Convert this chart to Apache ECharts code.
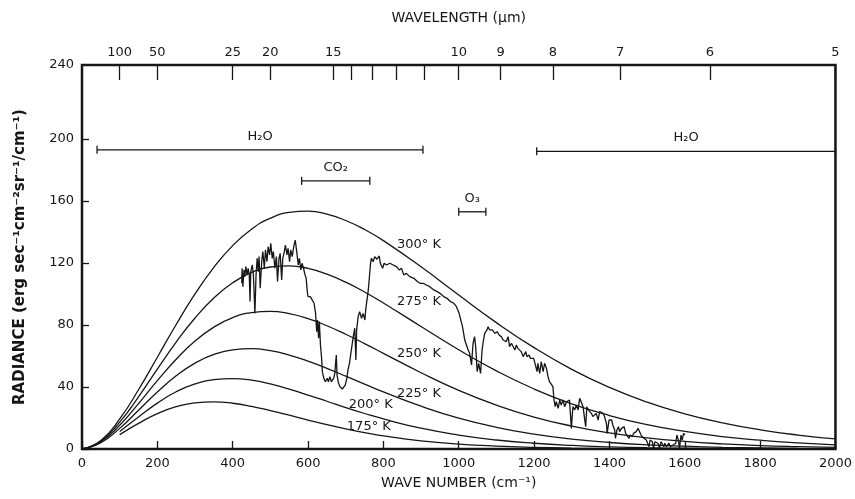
<!DOCTYPE html>
<html><head><meta charset="utf-8">
<script src="https://cdn.jsdelivr.net/npm/echarts@6/dist/echarts.min.js"></script>
<style>html,body{margin:0;padding:0;background:#fff}#c{width:855px;height:499px}</style>
</head><body><div id="c"></div>
<script>
// ---------- DATA ----------
const waveNumbers = [0,50,100,150,200,250,300,350,400,450,500,550,600,650,700,750,800,900,1000,1100,1200,1300,1400,1500,1600,1700,1800,1900,2000];
const radiance300K = [0,5.5,19.4,38.2,59.2,80.3,100.0,117.2,131.2,141.8,148.9,152.6,153.4,151.5,147.4,141.6,134.4,117.5,99.3,81.5,65.4,51.4,39.7,30.2,22.7,16.9,12.4,9.0,6.5];
const radiance275K = [0,5.0,17.3,33.7,51.6,69.0,84.5,97.4,107.2,113.9,117.4,118.1,116.5,112.8,107.6,101.3,94.2,79.0,64.0,50.4,38.7,29.1,21.6,15.7,11.3,8.0,5.7,3.9,2.7];
const radiance250K = [0,4.5,15.3,29.3,44.1,57.9,69.6,78.6,84.8,88.0,88.8,87.3,84.1,79.5,74.0,68.0,61.7,49.2,37.8,28.3,20.6,14.8,10.4,7.2,4.9,3.3,2.2,1.5,1.0];
const radiance225K = [0,4.0,13.3,25.0,36.8,47.2,55.4,61.0,64.0,64.7,63.4,60.6,56.7,52.0,47.0,41.9,36.8,27.6,19.9,14.0,9.6,6.4,4.2,2.7,1.8,1.1,0.7,0.4,0.3];
const radiance200K = [null,null,11.3,20.7,29.6,36.9,42.0,44.8,45.4,44.4,42.0,38.6,34.8,30.8,26.7,22.9,19.4,13.4,9.0,5.8,3.7,2.3,1.4,0.8,0.5,0.3,0.2,0.1,0.05];
const radiance175K = [null,null,9.3,16.5,22.8,27.3,29.8,30.4,29.5,27.5,24.8,21.8,18.7,15.7,13.0,10.6,8.5,5.3,3.2,1.9,1.1,0.6,0.3,0.2,0.1,0.05,0.03,0.01,0.01];
const curveTemps = [300,275,250,225,200,175];
const curveValues = [radiance300K,radiance275K,radiance250K,radiance225K,radiance200K,radiance175K];

const obsWaveNumber = [424,425,427,430,432,435,438,441,444,446,448,452,455,459,462,465,468,470,473,477,480,484,487,491,494,498,501,505,508,512,516,519,523,526,530,533,537,540,544,547,551,554,558,562,566,570,574,577,581,584,588,592,595,598,600,606,611,616,620,623,625,628,630,633,636,638,642,646,651,654,658,662,668,671,675,677,681,685,691,695,699,703,706,710,
720,724,727,729,733,737,742,746,751,753,760,766,768,773,777,783,789,792,798,802,808,817,826,835,842,848,854,861,870,881,890,897,905,914,923,934,943,950,960,969,978,987,994,1001,1004,1010,1016,1025,
1029,1034,1038,1042,1045,1049,1053,1058,1062,1065,1069,1075,1078,1082,1089,1096,1102,1107,1113,1118,1122,1126,1131,1135,1140,1144,1149,1153,1157,1162,1166,1171,1173,1178,1181,1187,1190,1195,1199,1203,1208,1210,1215,1219,1224,1228,1233,1237,1241,1246,1250,1253,1256,1259,1264,1268,1272,1277,1281,1286,1291,1294,1299,1303,1308,1312,1317,1321,1325,1330,1334,1337,1340,1344,1348,1352,1356,1361,1365,1370,1374,1378,1383,1387,1392,1394,1399,1402,1406,1409,1414,1416,1420,1424,1427,1432,1436,1439,1443,1447,1452,1455,1461,1464,1468,1471,1476,1480,1484,1487,1491,1494,1498,1502,1505,1508,1514,1517,1521,1524,1529,1533,1537,1540,1544,1547,1551,1554,1558,1562,1564,1569,1572,1576,1579,1583,1586,1590,1593,1597,1600];
const obsRadiance = [106.9,116.6,104.7,115.5,111.2,117.6,112.3,116.6,112.3,95.1,114.4,118.7,112.3,87.5,112.3,123.0,114.4,124.1,103.7,120.9,127.3,116.6,128.4,120.9,130.5,125.2,132.7,123.0,127.3,116.6,124.1,108.0,123.0,126.2,109.0,123.0,127.3,131.6,125.2,129.5,120.9,128.4,124.1,130.5,134.8,127.3,118.7,123.0,115.5,119.8,116.6,112.3,110.1,101.5,98.3,98.3,97.2,94.0,87.5,75.7,83.2,71.4,82.2,67.1,58.5,49.9,45.6,43.4,45.6,43.4,46.7,43.4,45.6,48.8,60.6,47.7,42.4,40.2,38.7,38.1,41.3,45.6,51.0,55.3,
72.5,77.9,57.4,76.8,85.4,88.6,84.3,87.5,83.2,89.7,102.6,119.8,123.0,120.9,124.1,122.4,124.5,119.8,116.6,119.8,118.7,119.8,118.7,117.6,115.5,116.6,112.3,113.3,111.2,110.1,108.0,106.9,106.9,105.8,104.7,102.6,101.5,100.4,98.3,97.2,95.1,94.0,91.8,87.5,86.5,78.9,70.3,63.9,
61.7,54.2,68.2,72.5,66.0,49.9,55.3,48.8,63.9,69.2,74.6,76.8,78.9,76.8,76.8,74.6,75.7,73.5,72.5,70.3,71.4,69.2,72.5,66.0,68.2,69.2,63.9,67.1,64.9,63.9,62.8,59.6,58.5,62.8,59.6,60.6,58.5,59.6,58.5,57.4,49.9,55.3,48.8,56.3,49.9,55.3,52.0,46.7,43.4,44.5,40.2,31.6,27.3,30.5,26.2,31.6,28.4,31.6,27.3,30.5,29.5,31.6,13.3,27.3,25.2,28.4,25.2,32.7,30.5,27.3,19.8,14.4,27.3,25.2,26.2,23.0,20.9,21.9,23.0,18.7,24.1,25.2,23.0,20.9,16.6,10.1,18.7,19.8,18.7,15.5,12.3,6.9,12.3,14.4,11.2,13.3,12.3,14.4,10.1,9.0,6.9,9.0,8.0,10.1,9.0,11.2,13.3,14.4,9.0,10.1,6.9,8.0,5.8,6.9,1.5,5.8,4.7,0.4,4.7,5.8,3.7,0.4,4.7,4.7,1.5,3.7,1.5,2.6,3.7,1.5,0.4,2.6,1.5,3.7,9.0,5.8,0.4,9.0,5.8,10.1,9.0];

const wavelengthLabels = [100,50,25,20,15,10,9,8,7,6,5];
const wavelengthMinorTicks = [14,13,12,11];
const yTickLabels = [0,40,80,120,160,200,240];
const bandNames = ['H\u2082O','CO\u2082','O\u2083','H\u2082O'];
const bandStart = [40,583,1000,1207];
const bandEnd = [905,764,1072,2000];

// ---------- LAYOUT ----------
const FONT = 'DejaVu Sans';
const INK = '#161616';
const Y_TOP = 247.7;               // frame top in radiance units
const bandLevel = [193, 173, 153, 192];
const tempLabelAt = [[836,131.6],[836,94.8],[836,61.3],[836,35.5],[708,28.4],[703,14.2]];

const planckSeries = curveTemps.map((t, k) => ({
  type: 'line',
  name: t + '\u00B0 K',
  data: waveNumbers.map((x, i) => [x, curveValues[k][i]]).filter(p => p[1] !== null),
  symbol: 'none',
  smooth: true,
  lineStyle: { color: INK, width: 1.3 },
  silent: true,
  z: 3,
  markPoint: {
    symbol: 'circle', symbolSize: 0, silent: true,
    label: { show: true, position: 'right', distance: 0, formatter: t + '\u00B0 K',
             color: INK, fontFamily: FONT, fontSize: 13 },
    data: [{ coord: tempLabelAt[k] }]
  }
}));

const yLabelVals = yTickLabels.map(v => v === 240 ? Y_TOP : v);

const option = {
  animation: false,
  backgroundColor: '#fff',
  grid: { left: 82, right: 19, top: 65, bottom: 50, show: true, borderColor: INK, borderWidth: 2.5 },
  xAxis: [
    {
      type: 'value', min: 0, max: 2000, interval: 200, position: 'bottom',
      axisLine: { show: false }, splitLine: { show: false },
      axisTick: { show: true, inside: true, length: 8, lineStyle: { color: INK, width: 1.3 } },
      axisLabel: { color: INK, fontFamily: FONT, fontSize: 13, margin: 8, formatter: v => String(v) },
      name: 'WAVE NUMBER (cm\u207B\u00B9)', nameLocation: 'middle', nameGap: 27,
      nameTextStyle: { color: INK, fontFamily: FONT, fontSize: 14 }
    },
    {
      type: 'value', min: 0, max: 2000, position: 'top',
      axisLine: { show: false }, splitLine: { show: false },
      axisTick: { show: true, inside: true, length: 15,
        customValues: wavelengthLabels.concat(wavelengthMinorTicks).map(l => 10000 / l),
        lineStyle: { color: INK, width: 1.3 } },
      axisLabel: { color: INK, fontFamily: FONT, fontSize: 13, margin: 6,
        customValues: wavelengthLabels.map(l => 10000 / l),
        formatter: v => String(Math.round(10000 / v)) },
      name: 'WAVELENGTH (\u03BCm)', nameLocation: 'middle', nameGap: 40,
      nameTextStyle: { color: INK, fontFamily: FONT, fontSize: 14 }
    }
  ],
  yAxis: [{
    type: 'value', min: 0, max: Y_TOP,
    axisLine: { show: false }, splitLine: { show: false },
    axisTick: { show: true, inside: true, length: 7,
      customValues: yTickLabels.filter(v => v !== 240), lineStyle: { color: INK, width: 1.3 } },
    axisLabel: { color: INK, fontFamily: FONT, fontSize: 13, margin: 8,
      customValues: yLabelVals,
      formatter: v => (v > 240 ? '240' : String(v)) },
    name: 'RADIANCE (erg sec\u207B\u00B9cm\u207B\u00B2sr\u207B\u00B9/cm\u207B\u00B9)',
    nameLocation: 'middle', nameGap: 54, nameRotate: 90,
    nameTextStyle: { color: INK, fontFamily: FONT, fontSize: 15, fontWeight: 'bold' }
  }],
  series: planckSeries.concat([
    {
      type: 'line', name: 'observed',
      data: obsWaveNumber.map((x, i) => [x, obsRadiance[i]]),
      symbol: 'none', silent: true, z: 4,
      lineStyle: { color: INK, width: 1.3 }
    },
    {
      type: 'custom', name: 'bands', silent: true, clip: false, z: 5,
      data: bandNames.map((n, i) => [bandStart[i], bandLevel[i], bandEnd[i], i]),
      encode: { x: [0, 2], y: 1 },
      renderItem: (params, api) => {
        const a = api.coord([api.value(0), api.value(1)]);
        const b = api.coord([api.value(2), api.value(1)]);
        const idx = api.value(3);
        const cap = 4;
        const st = { stroke: INK, lineWidth: 1.3 };
        return { type: 'group', children: [
          { type: 'line', shape: { x1: a[0], y1: a[1], x2: b[0], y2: b[1] }, style: st },
          { type: 'line', shape: { x1: a[0], y1: a[1] - cap, x2: a[0], y2: a[1] + cap }, style: st },
          { type: 'line', shape: { x1: b[0], y1: b[1] - cap, x2: b[0], y2: b[1] + cap }, style: st },
          { type: 'text', x: (a[0] + b[0]) / 2, y: a[1] - 7,
            style: { text: bandNames[idx], align: 'center', verticalAlign: 'bottom',
                     font: '13px "' + FONT + '"', fill: INK } }
        ]};
      }
    }
  ])
};

const chart = echarts.init(document.getElementById('c'), null, { renderer: 'canvas' });
chart.setOption(option);
</script>
</body></html>
